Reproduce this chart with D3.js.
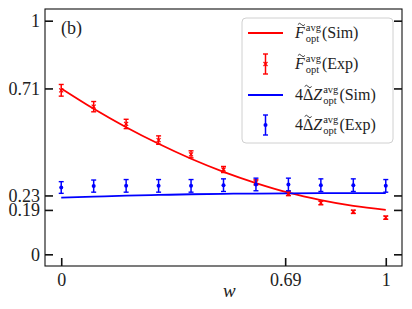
<!DOCTYPE html>
<html>
<head>
<meta charset="utf-8">
<script src="https://cdn.jsdelivr.net/npm/d3@7"></script>
<style>
body { margin: 0; background: #fff; }
text { font-family: "Liberation Serif", "DejaVu Serif", serif; fill: #222; }
</style>
</head>
<body>
<div id="chart"></div>
<script>
// w values shared by every series
var wValues = [0, 0.1, 0.2, 0.3, 0.4, 0.5, 0.6, 0.7, 0.8, 0.9, 1];
// F~ avg (simulation curve)
var fSim = [0.71, 0.623, 0.544, 0.473, 0.409, 0.353, 0.305, 0.264, 0.232, 0.207, 0.19];
// F~ avg (experiment) and its error
var fExp = [0.702, 0.632, 0.558, 0.489, 0.428, 0.363, 0.308, 0.26, 0.22, 0.182, 0.157];
var fErr = [0.025, 0.022, 0.02, 0.018, 0.015, 0.013, 0.011, 0.009, 0.008, 0.007, 0.007];
// 4 dZ~ avg (simulation curve)
var zSim = [0.243, 0.247, 0.251, 0.254, 0.257, 0.259, 0.260, 0.261, 0.262, 0.262, 0.262];
// 4 dZ~ avg (experiment) and its error
var zExp = [0.286, 0.292, 0.293, 0.293, 0.293, 0.296, 0.299, 0.299, 0.296, 0.296, 0.293];
var zErr = [0.025, 0.026, 0.027, 0.027, 0.027, 0.027, 0.027, 0.027, 0.027, 0.027, 0.027];
// tick positions and labels
var yTickValues = [0, 0.19, 0.252, 0.71, 1];
var yTickLabels = ["0", "0.19", "0.23", "0.71", "1"];
var xTickValues = [0, 0.69, 1];
var xTickLabels = ["0", "0.69", "1"];

var W = 412, H = 309;
// plot box (don't call these top/left: window.top is read only)
var padL = 45, padR = 402, padT = 9, padB = 266;
var red = "#ff0000", blue = "#0000ff";

var svg = d3.select("#chart").append("svg")
	.attr("width", W).attr("height", H);

var x = d3.scaleLinear().domain([-0.05, 1.05]).range([padL, padR]);
var y = d3.scaleLinear().domain([-0.05, 1.05]).range([padB, padT]);

// axes with inward ticks
var yAxis = d3.axisLeft(y).tickValues(yTickValues).tickSize(-8).tickPadding(5)
	.tickFormat(function(d, i) { return yTickLabels[i]; });
var gy = svg.append("g").attr("transform", "translate(" + padL + ",0)").call(yAxis);
var gyr = svg.append("g").attr("transform", "translate(" + padR + ",0)")
	.call(d3.axisRight(y).tickValues(yTickValues).tickSize(-8).tickFormat(""));
var xAxis = d3.axisBottom(x).tickValues(xTickValues).tickSize(-8).tickPadding(7)
	.tickFormat(function(d, i) { return xTickLabels[i]; });
var gx = svg.append("g").attr("transform", "translate(0," + padB + ")").call(xAxis);

[gy, gyr, gx].forEach(function(g) {
	g.select(".domain").remove();
	g.selectAll(".tick line").attr("stroke", "#111").attr("stroke-width", 1.6);
	g.selectAll(".tick text").style("font-family", "Liberation Serif, serif")
		.style("font-size", "18px").attr("fill", "#222");
});

// frame
svg.append("rect")
	.attr("x", padL).attr("y", padT)
	.attr("width", padR - padL).attr("height", padB - padT)
	.attr("fill", "none").attr("stroke", "#111").attr("stroke-width", 1.1);

// simulation curves
var line = d3.line().curve(d3.curveMonotoneX);
svg.append("path")
	.attr("d", line(wValues.map(function(w, i) { return [x(w), y(fSim[i])]; })))
	.attr("fill", "none").attr("stroke", red).attr("stroke-width", 1.8);
svg.append("path")
	.attr("d", line(wValues.map(function(w, i) { return [x(w), y(zSim[i])]; })))
	.attr("fill", "none").attr("stroke", blue).attr("stroke-width", 1.8);

// error bars
function errorBars(vals, errs, color, marker) {
	var g = svg.append("g");
	var pts = wValues.map(function(w, i) { return {w: w, v: vals[i], e: errs[i]}; });
	var bar = g.selectAll("g").data(pts).enter().append("g");
	bar.append("line")
		.attr("x1", function(d) { return x(d.w); }).attr("x2", function(d) { return x(d.w); })
		.attr("y1", function(d) { return y(d.v - d.e); }).attr("y2", function(d) { return y(d.v + d.e); })
		.attr("stroke", color).attr("stroke-width", 1.5);
	[-1, 1].forEach(function(s) {
		bar.append("line")
			.attr("x1", function(d) { return x(d.w) - 2.5; }).attr("x2", function(d) { return x(d.w) + 2.5; })
			.attr("y1", function(d) { return y(d.v + s * d.e); }).attr("y2", function(d) { return y(d.v + s * d.e); })
			.attr("stroke", color).attr("stroke-width", 1.4);
	});
	if (marker == "x") {
		bar.append("path")
			.attr("d", function(d) {
				var cx = x(d.w), cy = y(d.v);
				return "M" + (cx - 2) + "," + (cy - 2) + "L" + (cx + 2) + "," + (cy + 2) +
					"M" + (cx - 2) + "," + (cy + 2) + "L" + (cx + 2) + "," + (cy - 2);
			})
			.attr("stroke", color).attr("stroke-width", 1.2);
	} else {
		bar.append("circle")
			.attr("cx", function(d) { return x(d.w); }).attr("cy", function(d) { return y(d.v); })
			.attr("r", 2).attr("fill", color);
	}
}
errorBars(fExp, fErr, red, "x");
errorBars(zExp, zErr, blue, "o");

// panel label and axis label
svg.append("text").attr("x", 61).attr("y", 34).style("font-size", "18px").text("(b)");
svg.append("text").attr("x", 223).attr("y", 297).style("font-size", "19px")
	.style("font-style", "italic").text("w");

// legend
var lg = svg.append("g");
lg.append("rect").attr("x", 242).attr("y", 18).attr("width", 151).attr("height", 125)
	.attr("rx", 4).attr("fill", "#fff").attr("fill-opacity", 0.85)
	.attr("stroke", "#d0d0d0").attr("stroke-width", 1);

var legendItems = [
	{main: [["F", true]], tail: "(Sim)", color: red, kind: "line"},
	{main: [["F", true]], tail: "(Exp)", color: red, kind: "x"},
	{main: [["4", false], ["\u0394", false], ["Z", true]], tail: "(Sim)", color: blue, kind: "line"},
	{main: [["4", false], ["\u0394", false], ["Z", true]], tail: "(Exp)", color: blue, kind: "o"}
];
var rowY = [33, 64, 95, 125];

legendItems.forEach(function(it, i) {
	var cy = rowY[i];
	if (it.kind == "line") {
		lg.append("line").attr("x1", 248).attr("x2", 283).attr("y1", cy).attr("y2", cy)
			.attr("stroke", it.color).attr("stroke-width", 1.8);
	} else {
		var cx = 265.5;
		lg.append("line").attr("x1", cx).attr("x2", cx).attr("y1", cy - 10).attr("y2", cy + 10)
			.attr("stroke", it.color).attr("stroke-width", 1.5);
		[-10, 10].forEach(function(o) {
			lg.append("line").attr("x1", cx - 2.5).attr("x2", cx + 2.5).attr("y1", cy + o).attr("y2", cy + o)
				.attr("stroke", it.color).attr("stroke-width", 1.4);
		});
		if (it.kind == "x") {
			lg.append("path").attr("d", "M" + (cx - 2) + "," + (cy - 2) + "L" + (cx + 2) + "," + (cy + 2) +
				"M" + (cx - 2) + "," + (cy + 2) + "L" + (cx + 2) + "," + (cy - 2))
				.attr("stroke", it.color).attr("stroke-width", 1.2);
		} else {
			lg.append("circle").attr("cx", cx).attr("cy", cy).attr("r", 2).attr("fill", it.color);
		}
	}
	var tx = 295, base = cy + 5;
	it.main.forEach(function(p, j) {
		var t = lg.append("text").attr("x", tx).attr("y", base).style("font-size", "16px")
			.style("font-style", p[1] ? "italic" : "normal").text(p[0]);
		var wd = t.node().getComputedTextLength();
		// tilde accent over F and Delta, drawn as a small wave
		if (p[0] == "F" || p[0] == "\u0394") {
			var mx = tx + wd / 2 + (p[1] ? 1.5 : 0), my = base - 14.5;
			lg.append("path")
				.attr("d", "M" + (mx - 3.5) + "," + (my + 1) + " q1.75,-2.5 3.5,0 t3.5,0")
				.attr("fill", "none").attr("stroke", "#222").attr("stroke-width", 0.9);
		}
		tx += wd + (p[1] ? 1 : 0);
	});
	var sup = lg.append("text").attr("x", tx).attr("y", base - 7).style("font-size", "10.5px").text("avg");
	var sub = lg.append("text").attr("x", tx).attr("y", base + 4).style("font-size", "10.5px").text("opt");
	tx += Math.max(sup.node().getComputedTextLength(), sub.node().getComputedTextLength()) + 1;
	lg.append("text").attr("x", tx).attr("y", base).style("font-size", "16px").text(it.tail);
});
</script>
</body>
</html>
